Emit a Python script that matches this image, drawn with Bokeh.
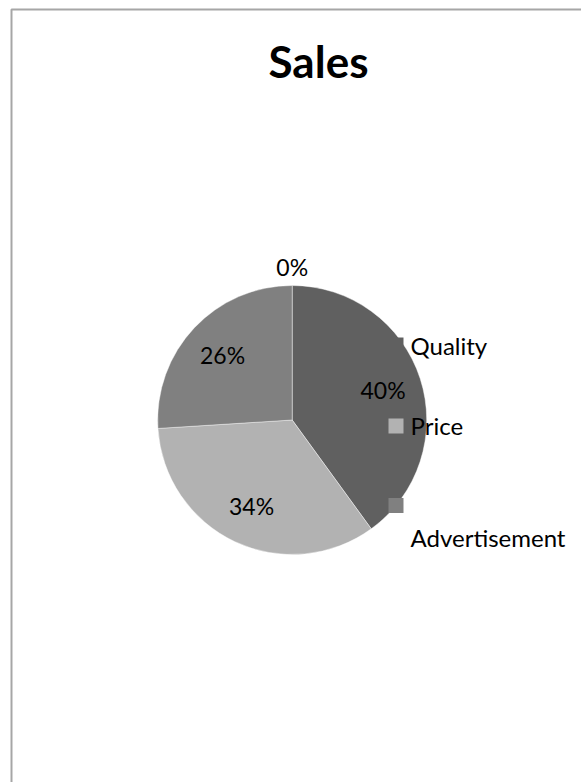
import math
from bokeh.plotting import figure
from bokeh.models import Range1d, ColumnDataSource
from bokeh.core.properties import value
from bokeh.embed import file_html
from bokeh.resources import INLINE

# ---- data ----
title_text = "Sales"
categories = ["Quality", "Price", "Advertisement", ""]
shares = [40, 34, 26, 0]          # percent of total
colors = ["#606060", "#b2b2b2", "#808080", "#404040"]
legend_items = ["Quality", "Price", "Advertisement"]

# ---- layout (pixel space, y measured from the top) ----
W, H = 581, 782
CX, CY, R = 291.7, 419.5, 134.5
FONT = "Lato"


def Y(py):
    return H - py


p = figure(width=W, height=H, output_backend="svg", toolbar_location=None,
           x_range=Range1d(0, W), y_range=Range1d(0, H),
           x_axis_location=None, y_axis_location=None, min_border=0)
p.grid.visible = False
p.outline_line_color = None
p.background_fill_color = "white"
p.border_fill_color = "white"

# chart area border (clipped by the window on right and bottom)
p.line(x=[11, 11, W + 20], y=[Y(H + 20), Y(9), Y(9)], line_color="#a6a6a6", line_width=2)

# title
p.text(x=[318], y=[Y(60)], text=[title_text], text_font=value(FONT), text_font_style="bold",
       text_font_size="44px", text_align="center", text_baseline="alphabetic", text_color="black")

# wedges
total = float(sum(shares))
starts, ends, mids = [], [], []
acc = 0.0
for s in shares:
    a0 = math.pi / 2 - 2 * math.pi * acc / total
    acc += s
    a1 = math.pi / 2 - 2 * math.pi * acc / total
    starts.append(a0)
    ends.append(a1)
    mids.append((a0 + a1) / 2)

wsrc = ColumnDataSource(dict(
    start=[a for a, s in zip(starts, shares) if s > 0],
    end=[a for a, s in zip(ends, shares) if s > 0],
    color=[c for c, s in zip(colors, shares) if s > 0],
))
p.wedge(x=CX, y=Y(CY), radius=R, start_angle="start", end_angle="end", direction="clock",
        fill_color="color", line_color="white", line_width=0.6, line_alpha=0.7, source=wsrc)

# percent labels
lx, ly, lt = [], [], []
for s, m in zip(shares, mids):
    rr = R * 0.71 if s > 0 else R * 1.14
    lx.append(CX + rr * math.cos(m))
    ly.append(Y(CY) + rr * math.sin(m))
    lt.append(f"{round(100 * s / total)}%")
p.text(x=lx, y=ly, text=lt, text_font=value(FONT), text_font_size="23px",
       text_align="center", text_baseline="middle", text_color="black")

# legend (custom, as in the reference)
marker_y = [344.5, 425.5, 505]
text_y = [345, 425, 537]
p.scatter(x=[395.5] * 3, y=[Y(v) for v in marker_y], marker="square", size=15,
          fill_color=colors[:3], line_color=None)
p.text(x=[410] * 3, y=[Y(v) for v in text_y], text=legend_items, text_font=value(FONT),
       text_font_size="24px", text_align="left", text_baseline="middle", text_color="black")

open("out.html", "w").write(file_html(p, INLINE))
